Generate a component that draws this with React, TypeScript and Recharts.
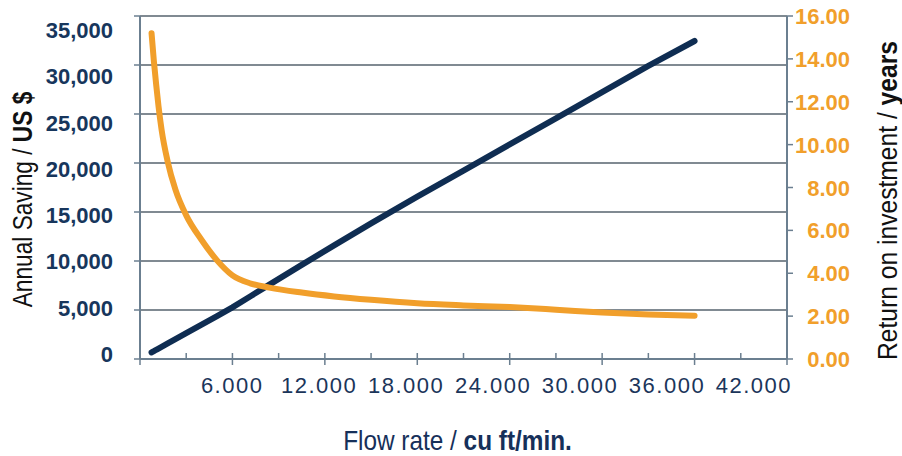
import { LineChart, Line, XAxis, YAxis, CartesianGrid } from 'recharts';

// flow rate in cu ft/min
const flowRates = [750, 900, 1050, 1200, 1400, 1800, 2300, 3000, 4000, 5000, 6000, 7200, 8400, 10500, 12600, 15000, 18000, 21000, 24000, 27000, 30000, 33000, 36000];
// annual saving in US $
const annualSaving = [670, 800, 940, 1070, 1240, 1590, 2020, 2630, 3500, 4370, 5270, 6430, 7590, 9610, 11590, 13840, 16570, 19230, 21900, 24560, 27230, 29900, 32450];
// return on investment in years
const paybackYears = [15.2, 13.9, 12.8, 11.8, 10.7, 9.2, 7.9, 6.7, 5.55, 4.6, 3.9, 3.52, 3.33, 3.1, 2.92, 2.76, 2.6, 2.5, 2.42, 2.3, 2.17, 2.08, 2.02];

const flowTicks = [0, 3000, 6000, 9000, 12000, 15000, 18000, 21000, 24000, 27000, 30000, 33000, 36000, 39000, 42000];
const flowLabelTicks = [6000, 12000, 18000, 24000, 30000, 36000, 42000];
const savingTicks = [0, 5000, 10000, 15000, 20000, 25000, 30000, 35000];
const yearTicks = [0, 2, 4, 6, 8, 10, 12, 14, 16];

const data = flowRates.map((flow, i) => ({
  flow,
  saving: annualSaving[i],
  years: paybackYears[i],
}));

const NAVY = '#0f2d52';
const ORANGE = '#f19f2b';
const AXIS = '#6b7f90';
const GRID = '#56636e';
const FONT = "'Liberation Sans', Arial, sans-serif";

const NoLabel = () => <g />;

const FlowTick = ({ x, y, payload }: any) => {
  const major = payload.value % 6000 === 0;
  return <line x1={x} x2={x} y1={y - 6} y2={y + (major ? 6 : 0)} stroke={AXIS} strokeWidth={1.5} />;
};

const FlowLabel = ({ x, y, payload }: any) => (
  <text x={x} y={y + 26} textAnchor="middle" fill="#1b355a" fontSize={22} letterSpacing={1.5} fontFamily={FONT}>
    {(payload.value / 1000).toFixed(3)}
  </text>
);

const SavingLabel = ({ x, y, payload }: any) => (
  <text x={x} y={y + 8} textAnchor="end" fill="#17365c" fontSize={22} fontWeight="bold" fontFamily={FONT}>
    {payload.value.toLocaleString('en-US')}
  </text>
);

const YearLabel = ({ x, y, payload }: any) => (
  <text x={x + 57} y={y + 8} textAnchor="end" fill={ORANGE} fontSize={22} fontWeight="bold" fontFamily={FONT}>
    {payload.value.toFixed(2)}
  </text>
);

const FlowTitle = ({ viewBox }: any) => (
  <text
    transform={`translate(${viewBox.x + viewBox.width / 2 - 6}, ${viewBox.y + 83}) scale(0.87, 1)`}
    textAnchor="middle"
    fill="#16305a"
    fontSize={28}
    fontFamily={FONT}
  >
    <tspan>Flow rate / </tspan>
    <tspan fontWeight="bold">cu ft/min.</tspan>
  </text>
);

const SavingTitle = ({ viewBox }: any) => (
  <text
    transform={`translate(${viewBox.x + 32}, ${viewBox.y + viewBox.height / 2 + 12}) rotate(-90) scale(0.81, 1)`}
    textAnchor="middle"
    fill="#111"
    fontSize={28}
    fontFamily={FONT}
  >
    <tspan>Annual Saving / </tspan>
    <tspan fontWeight="bold">US $</tspan>
  </text>
);

const YearTitle = ({ viewBox }: any) => (
  <text
    transform={`translate(${viewBox.x + 110}, ${viewBox.y + viewBox.height / 2 + 13}) rotate(-90) scale(0.88, 1)`}
    textAnchor="middle"
    fill="#111"
    fontSize={28}
    fontFamily={FONT}
  >
    <tspan>Return on investment / </tspan>
    <tspan fontWeight="bold">years</tspan>
  </text>
);

export default function App() {
  return (
    <div style={{ position: 'absolute', left: 0, top: 0, width: 902, height: 456, background: '#fff' }}>
      <LineChart width={902} height={456} data={data} margin={{ top: 16, right: 0, bottom: 0, left: 0 }}>
        <CartesianGrid xAxisId="flow" yAxisId="left" vertical={false} stroke={GRID} strokeWidth={1.5} />
        <XAxis
          xAxisId="flow"
          type="number"
          dataKey="flow"
          domain={[0, 42000]}
          ticks={flowTicks}
          height={8}
          tickSize={0}
          tickMargin={0}
          tickLine={false}
          tick={FlowTick}
          axisLine={{ stroke: AXIS, strokeWidth: 2 }}
        />
        <XAxis
          xAxisId="flowLabels"
          type="number"
          dataKey="flow"
          domain={[-359, 44281]}
          allowDataOverflow
          ticks={flowLabelTicks}
          height={89}
          tickSize={0}
          tickMargin={0}
          tickLine={false}
          axisLine={false}
          tick={FlowLabel}
          label={FlowTitle}
        />
        <YAxis
          yAxisId="left"
          orientation="left"
          domain={[0, 35000]}
          ticks={savingTicks}
          width={6}
          tickSize={6}
          tick={NoLabel}
          tickLine={{ stroke: AXIS, strokeWidth: 1.5 }}
          axisLine={{ stroke: AXIS, strokeWidth: 2 }}
        />
        <YAxis
          yAxisId="leftLabels"
          orientation="left"
          domain={[-551, 36514]}
          allowDataOverflow
          ticks={savingTicks}
          width={134}
          tickSize={0}
          tickMargin={21}
          tickLine={false}
          axisLine={false}
          tick={SavingLabel}
          label={SavingTitle}
        />
        <YAxis
          yAxisId="right"
          orientation="right"
          domain={[0, 16]}
          ticks={yearTicks}
          width={115}
          tickSize={6}
          tickMargin={0}
          tickLine={{ stroke: AXIS, strokeWidth: 1.5 }}
          axisLine={{ stroke: AXIS, strokeWidth: 2 }}
          tick={YearLabel}
          label={YearTitle}
        />
        <Line
          xAxisId="flow"
          yAxisId="left"
          type="linear"
          dataKey="saving"
          stroke={NAVY}
          strokeWidth={6}
          strokeLinecap="round"
          dot={false}
          isAnimationActive={false}
        />
        <Line
          xAxisId="flow"
          yAxisId="right"
          type="monotone"
          dataKey="years"
          stroke={ORANGE}
          strokeWidth={6}
          strokeLinecap="round"
          dot={false}
          isAnimationActive={false}
        />
      </LineChart>
    </div>
  );
}
